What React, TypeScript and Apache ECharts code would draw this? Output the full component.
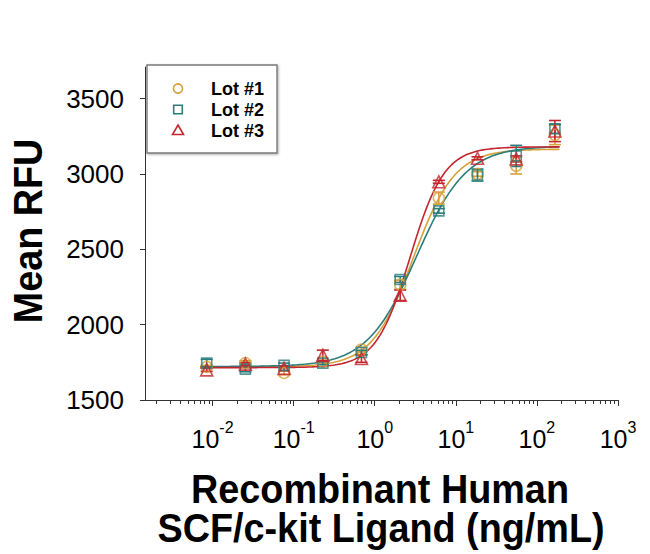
import React, { useEffect, useRef } from "react";
import * as echarts from "echarts";

// Concentrations (ng/mL), 3-fold dilution series
const concentrations = [0.00847, 0.0254, 0.0762, 0.229, 0.686, 2.06, 6.17, 18.5, 55.6, 166.7];

// Mean RFU per lot
const lot1Values = [1720, 1745, 1680, 1755, 1835, 2265, 2840, 3000, 3055, 3260];
const lot1Errors = [10, 15, 12, 10, 15, 30, 40, 15, 55, 65];
const lot2Values = [1745, 1705, 1730, 1745, 1815, 2300, 2755, 2993, 3120, 3300];
const lot2Errors = [25, 18, 15, 10, 15, 20, 15, 40, 70, 30];
const lot3Values = [1700, 1738, 1710, 1796, 1775, 2195, 2948, 3104, 3100, 3285];
const lot3Errors = [10, 10, 15, 35, 25, 35, 10, 10, 20, 70];

// 4-parameter logistic fit per lot: [bottom, top, EC50, hill]
const lot1Fit = [1720, 3165, 2.99, 1.7];
const lot2Fit = [1722, 3185, 3.28, 1.42];
const lot3Fit = [1715, 3180, 2.73, 2.06];
const fitRange = [0.007, 190];

const lotNames = ["Lot #1", "Lot #2", "Lot #3"];
const lotColors = ["#D6A23A", "#2A7D7B", "#C3262E"];
const lotSymbols = ["circle", "rect", "triangle"];

// Axis ticks
const xMin = 0.001468;
const xMax = 1000;
const decadeTicks = [-2, -1, 0, 1, 2, 3];
const yTicks = [1500, 2000, 2500, 3000, 3500];
const yMin = 1500;
const yMax = 3710;

const FONT = '"Liberation Sans", Arial, sans-serif';

function fitCurve(fit: number[]) {
  const [bottom, top, ec50, hill] = fit;
  const lo = Math.log10(fitRange[0]);
  const hi = Math.log10(fitRange[1]);
  const pts: number[][] = [];
  const n = 160;
  for (let i = 0; i <= n; i++) {
    const lx = lo + ((hi - lo) * i) / n;
    const c = Math.pow(10, lx);
    pts.push([lx, bottom + (top - bottom) / (1 + Math.pow(ec50 / c, hill))]);
  }
  return pts;
}

function minorTicks() {
  const out: number[] = [];
  const lmin = Math.log10(xMin);
  const lmax = Math.log10(xMax);
  for (let d = -3; d < 3; d++) {
    for (let k = 2; k <= 9; k++) {
      const v = d + Math.log10(k);
      if (v > lmin && v < lmax) out.push(v);
    }
  }
  return out;
}

export default function App() {
  const ref = useRef<HTMLDivElement>(null);
  useEffect(() => {
    document.body.style.margin = "0";
    const chart = echarts.init(ref.current!, null, { renderer: "svg" });
    const lots = [
      { v: lot1Values, e: lot1Errors, f: lot1Fit },
      { v: lot2Values, e: lot2Errors, f: lot2Fit },
      { v: lot3Values, e: lot3Errors, f: lot3Fit },
    ];
    const series: any[] = [];
    lots.forEach((lot, li) => {
      series.push({
        type: "line",
        name: lotNames[li] + " fit",
        data: fitCurve(lot.f),
        showSymbol: false,
        symbol: "none",
        lineStyle: { color: lotColors[li], width: 1.6 },
        z: 2 + li,
        silent: true,
      });
    });
    lots.forEach((lot, li) => {
      series.push({
        type: "custom",
        name: lotNames[li] + " err",
        data: concentrations.map((c, i) => [Math.log10(c), lot.v[i], lot.e[i]]),
        renderItem: (params: any, api: any) => {
          const x = api.value(0);
          const y = api.value(1);
          const e = api.value(2);
          const t = api.coord([x, y + e]);
          const b = api.coord([x, y - e]);
          const hw = 6;
          const st = { stroke: lotColors[li], lineWidth: 1.6 };
          return {
            type: "group",
            children: [
              { type: "line", shape: { x1: t[0], y1: t[1], x2: b[0], y2: b[1] }, style: st },
              { type: "line", shape: { x1: t[0] - hw, y1: t[1], x2: t[0] + hw, y2: t[1] }, style: st },
              { type: "line", shape: { x1: b[0] - hw, y1: b[1], x2: b[0] + hw, y2: b[1] }, style: st },
            ],
          };
        },
        z: 6 + li,
        silent: true,
      });
      series.push({
        type: "scatter",
        name: lotNames[li],
        data: concentrations.map((c, i) => [Math.log10(c), lot.v[i]]),
        symbol: lotSymbols[li],
        symbolSize: li === 1 ? 10 : li === 2 ? 12 : 11,
        itemStyle: { color: "rgba(0,0,0,0)", borderColor: lotColors[li], borderWidth: 1.6 },
        z: 10 + li,
        silent: true,
      });
    });

    const legendX = 147;
    const legendY = 65;
    const rowY = [88.5, 109.5, 130.5];
    const symX = 178;
    const textStyle = (text: string, size: number, align: string) => ({
      text,
      fontSize: size,
      fontWeight: "bold",
      fontFamily: FONT,
      fill: "#000",
      align,
      textAlign: align,
      verticalAlign: "middle",
      textVerticalAlign: "middle",
    });
    const graphic: any[] = [
      {
        type: "rect",
        shape: { x: legendX, y: legendY, width: 130, height: 88 },
        style: { fill: "#fff", stroke: "#7a7a7a", lineWidth: 1.4, shadowColor: "rgba(0,0,0,0.3)", shadowBlur: 2, shadowOffsetX: 1, shadowOffsetY: 1 },
        z: 100,
      },
      {
        type: "circle",
        shape: { cx: symX, cy: rowY[0], r: 4.6 },
        style: { fill: "none", stroke: lotColors[0], lineWidth: 1.6 },
        z: 101,
      },
      {
        type: "rect",
        shape: { x: symX - 4.3, y: rowY[1] - 4.3, width: 8.6, height: 8.6 },
        style: { fill: "none", stroke: lotColors[1], lineWidth: 1.6 },
        z: 101,
      },
      {
        type: "polygon",
        shape: { points: [[symX, rowY[2] - 5.5], [symX + 5.5, rowY[2] + 4], [symX - 5.5, rowY[2] + 4]] },
        style: { fill: "none", stroke: lotColors[2], lineWidth: 1.6 },
        z: 101,
      },
      ...lotNames.map((n, i) => ({
        type: "text",
        x: 211,
        y: rowY[i],
        style: textStyle(n, 18, "left"),
        z: 101,
      })),
      {
        type: "text",
        x: 27,
        y: 231,
        rotation: Math.PI / 2,
        scaleX: 0.92,
        style: textStyle("Mean RFU", 41, "center"),
        z: 101,
      },
      {
        type: "text",
        x: 380,
        y: 489,
        scaleX: 0.945,
        style: textStyle("Recombinant Human", 40, "center"),
        z: 101,
      },
      {
        type: "text",
        x: 381,
        y: 528,
        scaleX: 0.945,
        style: textStyle("SCF/c-kit Ligand (ng/mL)", 40, "center"),
        z: 101,
      },
    ];

    const option: any = {
      animation: false,
      backgroundColor: "#fff",
      grid: { left: 145, right: 32, top: 67, bottom: 154, containLabel: false },
      xAxis: [
        {
          type: "value",
          position: "bottom",
          min: Math.log10(xMin),
          max: Math.log10(xMax),
          axisLine: { show: true, onZero: false, lineStyle: { color: "#333", width: 1 } },
          axisTick: { show: true, inside: false, length: 6, customValues: decadeTicks, lineStyle: { color: "#333" } },
          axisLabel: {
            show: true,
            customValues: decadeTicks,
            margin: 19,
            formatter: (v: number) => "{b|10}{s|" + Math.round(v) + "}",
            rich: {
              b: { fontSize: 25, fontFamily: FONT, color: "#000", lineHeight: 32, verticalAlign: "bottom" },
              s: { fontSize: 16, fontFamily: FONT, color: "#000", lineHeight: 32, verticalAlign: "top" },
            },
          },
          splitLine: { show: false },
        },
        {
          type: "value",
          position: "bottom",
          min: Math.log10(xMin),
          max: Math.log10(xMax),
          axisLine: { show: false, onZero: false },
          axisTick: { show: true, inside: false, length: 4, customValues: minorTicks(), lineStyle: { color: "#333" } },
          axisLabel: { show: false },
          splitLine: { show: false },
        },
      ],
      yAxis: {
        type: "value",
        position: "left",
        min: yMin,
        max: yMax,
        axisLine: { show: true, onZero: false, lineStyle: { color: "#333", width: 1 } },
        axisTick: { show: true, inside: false, length: 5, customValues: yTicks, lineStyle: { color: "#333" } },
        axisLabel: {
          show: true,
          customValues: yTicks,
          margin: 21,
          fontSize: 26,
          fontFamily: FONT,
          color: "#000",
          formatter: (v: number) => String(Math.round(v)),
        },
        splitLine: { show: false },
      },
      series,
      graphic,
    };
    chart.setOption(option);
    return () => chart.dispose();
  }, []);
  return (
    <div
      ref={ref}
      style={{ position: "fixed", left: 0, top: 0, width: 650, height: 554, background: "#fff" }}
    />
  );
}
